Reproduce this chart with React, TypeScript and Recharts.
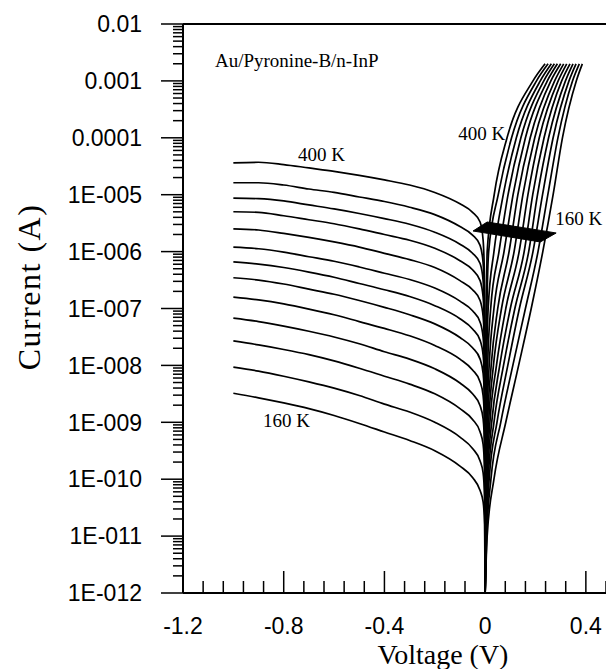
import React from 'react';
import { ComposedChart, Line, Area, XAxis, YAxis, ReferenceLine, ReferenceDot } from 'recharts';

// temperatures, top curve (400 K) to bottom curve (160 K)
const TEMPS = [400, 380, 360, 340, 320, 300, 280, 260, 240, 220, 200, 180, 160];

// reverse bias: voltage (V) and log10 of current (A)
const V_REV = [-1.0, -0.9, -0.8, -0.7, -0.6, -0.5, -0.4, -0.3, -0.2, -0.1, -0.05, -0.02, -0.008, -0.002, 0];
const rev400 = [-4.44, -4.43, -4.47, -4.53, -4.59, -4.66, -4.74, -4.83, -4.96, -5.16, -5.31, -5.48, -5.8, -6.6, -12];
const rev380 = [-4.79, -4.79, -4.83, -4.9, -4.96, -5.04, -5.12, -5.22, -5.35, -5.56, -5.71, -5.89, -6.2, -6.96, -12];
const rev360 = [-5.06, -5.07, -5.11, -5.18, -5.25, -5.33, -5.42, -5.52, -5.66, -5.87, -6.03, -6.21, -6.51, -7.25, -12];
const rev340 = [-5.3, -5.31, -5.37, -5.44, -5.51, -5.6, -5.7, -5.8, -5.94, -6.16, -6.32, -6.51, -6.8, -7.5, -12];
const rev320 = [-5.6, -5.62, -5.68, -5.75, -5.83, -5.92, -6.03, -6.14, -6.28, -6.51, -6.67, -6.86, -7.14, -7.81, -12];
const rev300 = [-5.92, -5.95, -6.01, -6.09, -6.17, -6.27, -6.38, -6.49, -6.64, -6.87, -7.04, -7.24, -7.51, -8.14, -12];
const rev280 = [-6.18, -6.22, -6.28, -6.36, -6.45, -6.56, -6.67, -6.79, -6.95, -7.18, -7.36, -7.56, -7.82, -8.42, -12];
const rev260 = [-6.46, -6.5, -6.57, -6.66, -6.75, -6.86, -6.98, -7.11, -7.27, -7.51, -7.69, -7.89, -8.14, -8.71, -12];
const rev240 = [-6.8, -6.85, -6.92, -7.01, -7.11, -7.23, -7.35, -7.48, -7.65, -7.89, -8.08, -8.29, -8.53, -9.06, -12];
const rev220 = [-7.17, -7.23, -7.31, -7.4, -7.5, -7.62, -7.76, -7.89, -8.06, -8.31, -8.5, -8.71, -8.94, -9.44, -12];
const rev200 = [-7.57, -7.64, -7.72, -7.81, -7.92, -8.05, -8.19, -8.33, -8.5, -8.76, -8.95, -9.17, -9.39, -9.86, -12];
const rev180 = [-8.03, -8.1, -8.19, -8.29, -8.4, -8.53, -8.68, -8.82, -9.0, -9.26, -9.46, -9.68, -9.89, -10.33, -12];
const rev160 = [-8.49, -8.57, -8.66, -8.76, -8.88, -9.02, -9.17, -9.32, -9.5, -9.77, -9.97, -10.2, -10.4, -10.8, -12];

// forward bias: log10 of current (A) levels and the voltage (V) each curve reaches there
const LOG_FWD = [-12, -11, -10, -9, -8, -7, -6, -5, -4, -3, -2.7];
const fwd400 = [0, 0.0005, 0.001, 0.002, 0.003, 0.005, 0.008, 0.036, 0.087, 0.19, 0.238];
const fwd380 = [0, 0.0006, 0.0012, 0.003, 0.004, 0.007, 0.014, 0.052, 0.105, 0.204, 0.25];
const fwd360 = [0, 0.001, 0.002, 0.004, 0.006, 0.012, 0.035, 0.072, 0.124, 0.219, 0.263];
const fwd340 = [0, 0.001, 0.0025, 0.005, 0.01, 0.022, 0.055, 0.091, 0.142, 0.233, 0.275];
const fwd320 = [0, 0.0012, 0.003, 0.007, 0.016, 0.035, 0.075, 0.111, 0.16, 0.247, 0.287];
const fwd300 = [0, 0.0015, 0.004, 0.01, 0.024, 0.05, 0.095, 0.13, 0.179, 0.261, 0.3];
const fwd280 = [0, 0.002, 0.005, 0.014, 0.033, 0.065, 0.115, 0.15, 0.197, 0.276, 0.312];
const fwd260 = [0, 0.0022, 0.007, 0.019, 0.045, 0.082, 0.135, 0.17, 0.215, 0.29, 0.324];
const fwd240 = [0, 0.003, 0.009, 0.026, 0.058, 0.1, 0.155, 0.189, 0.234, 0.304, 0.337];
const fwd220 = [0, 0.004, 0.012, 0.035, 0.073, 0.118, 0.173, 0.208, 0.252, 0.319, 0.349];
const fwd200 = [0, 0.005, 0.016, 0.047, 0.09, 0.136, 0.19, 0.228, 0.27, 0.333, 0.361];
const fwd180 = [0, 0.006, 0.023, 0.062, 0.11, 0.16, 0.21, 0.249, 0.289, 0.347, 0.374];
const fwd160 = [0, 0.008, 0.035, 0.082, 0.133, 0.183, 0.229, 0.27, 0.307, 0.362, 0.386];

// dark band where all forward curves jump near 2e-6 A
const BAND_V = [-0.048, 0.008, 0.219, 0.282];
const BAND_LOW = [-5.638, -5.678, -5.831, -5.673];
const BAND_HIGH = [-5.638, -5.48, -5.627, -5.673];

const X_TICKS = [-1.2, -1.12, -1.04, -0.96, -0.88, -0.8, -0.72, -0.64, -0.56, -0.48, -0.4, -0.32, -0.24,
  -0.16, -0.08, 0, 0.08, 0.16, 0.24, 0.32, 0.4, 0.48];
const Y_DECADES = [-12, -11, -10, -9, -8, -7, -6, -5, -4, -3, -2];

const REV = [rev400, rev380, rev360, rev340, rev320, rev300, rev280, rev260, rev240, rev220, rev200, rev180, rev160];
const FWD = [fwd400, fwd380, fwd360, fwd340, fwd320, fwd300, fwd280, fwd260, fwd240, fwd220, fwd200, fwd180, fwd160];

// log-axis minor ticks at 2..9 in every decade
const Y_TICKS: number[] = [];
Y_DECADES.forEach((d) => {
  Y_TICKS.push(d);
  if (d < -2) for (let m = 2; m <= 9; m++) Y_TICKS.push(d + Math.log10(m));
});

const SANS = '"Liberation Sans", Arial, sans-serif';
const SERIF = '"Liberation Serif", "Times New Roman", serif';

const yLabel = (v: number) => {
  if (v === -2) return '0.01';
  if (v === -3) return '0.001';
  if (v === -4) return '0.0001';
  return '1E-' + String(-v).padStart(3, '0');
};

const XTick = ({ x, y, payload }: any) => {
  const v = payload.value;
  const major = Math.abs(v * 2.5 - Math.round(v * 2.5)) < 1e-6;
  return (
    <g>
      <line x1={x} x2={x} y1={y} y2={y - (major ? 22 : 12)} stroke="#000" strokeWidth={1.5} />
      {major && (
        <text x={x} y={y + 41} textAnchor="middle" fontFamily={SANS} fontSize={23} fill="#000">
          {v === 0 ? '0' : v.toFixed(1)}
        </text>
      )}
    </g>
  );
};

const YTick = ({ x, y, payload }: any) => {
  const v = payload.value;
  const major = Math.abs(v - Math.round(v)) < 1e-6;
  return (
    <g>
      <line x1={x - (major ? 22 : 10)} x2={x} y1={y} y2={y} stroke="#000" strokeWidth={1.5} />
      {major && (
        <text x={x - 41} y={y} dy="0.36em" textAnchor="end" fontFamily={SANS} fontSize={23} fill="#000">
          {yLabel(Math.round(v))}
        </text>
      )}
    </g>
  );
};

const note = (v: number, logI: number, text: string) => (
  <ReferenceDot
    key={text + v}
    x={v}
    y={logI}
    r={1}
    fill="none"
    stroke="none"
    label={({ viewBox }: any) => (
      <text x={viewBox.x + 1} y={viewBox.y + 1} fontFamily={SERIF} fontSize={19} fill="#000">
        {text}
      </text>
    )}
  />
);

export default function App() {
  const band = BAND_V.map((v, i) => ({ v, band: [BAND_LOW[i], BAND_HIGH[i]] }));
  return (
    <div style={{ position: 'absolute', left: 0, top: 0, background: '#fff' }}>
      <ComposedChart width={606} height={669} margin={{ top: 24, right: 0, bottom: 0, left: 0 }}>
        <XAxis
          type="number"
          dataKey="v"
          domain={[-1.2, 0.48]}
          ticks={X_TICKS}
          interval={0}
          allowDataOverflow
          height={76}
          tickSize={0}
          tickMargin={0}
          tickLine={false}
          axisLine={{ stroke: '#000', strokeWidth: 2 }}
          tick={<XTick />}
          label={{
            content: ({ viewBox }: any) => (
              <text x={viewBox.x + 260} y={viewBox.y + 71} textAnchor="middle" fontFamily={SERIF} fontSize={28} fill="#000">
                Voltage (V)
              </text>
            ),
          }}
        />
        <YAxis
          type="number"
          domain={[-12, -2]}
          ticks={Y_TICKS}
          interval={0}
          allowDataOverflow
          width={183}
          tickSize={0}
          tickMargin={0}
          tickLine={false}
          axisLine={{ stroke: '#000', strokeWidth: 2 }}
          tick={<YTick />}
          label={{
            content: ({ viewBox }: any) => (
              <text
                x={40}
                y={viewBox.y + 263}
                transform={`rotate(-90, 40, ${viewBox.y + 263})`}
                textAnchor="middle"
                fontFamily={SERIF}
                fontSize={32}
                letterSpacing={1.5}
                fill="#000"
              >
                Current (A)
              </text>
            ),
          }}
        />
        <ReferenceLine y={-2} stroke="#000" strokeWidth={2} />
        {TEMPS.map((t, k) => (
          <Line
            key={'r' + t}
            data={V_REV.map((v, i) => ({ v, i: REV[k][i] }))}
            dataKey="i"
            type="monotone"
            stroke="#000"
            strokeWidth={1.7}
            dot={false}
            activeDot={false}
            isAnimationActive={false}
          />
        ))}
        {TEMPS.map((t, k) => (
          <Line
            key={'f' + t}
            data={LOG_FWD.map((l, i) => ({ v: FWD[k][i], i: l }))}
            dataKey="i"
            type="monotone"
            stroke="#000"
            strokeWidth={1.7}
            dot={false}
            activeDot={false}
            isAnimationActive={false}
          />
        ))}
        <Area
          data={band}
          dataKey="band"
          type="linear"
          fill="#000"
          fillOpacity={1}
          stroke="#000"
          strokeWidth={1}
          isAnimationActive={false}
        />
        {note(-1.073, -2.756, 'Au/Pyronine-B/n-InP')}
        {note(-0.743, -4.408, '400 K')}
        {note(-0.107, -4.039, '400 K')}
        {note(0.278, -5.532, '160 K')}
        {note(-0.882, -9.083, '160 K')}
      </ComposedChart>
    </div>
  );
}
